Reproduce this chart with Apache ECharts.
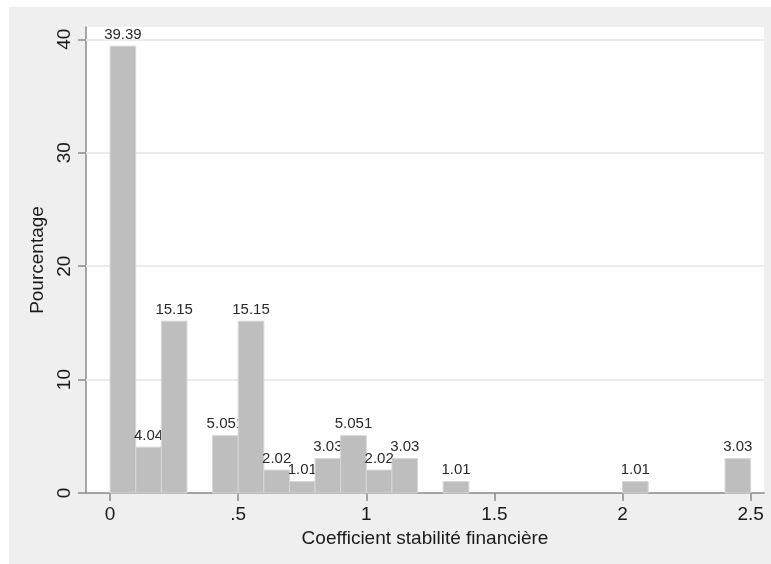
<!DOCTYPE html>
<html>
<head>
<meta charset="utf-8">
<script src="https://cdn.jsdelivr.net/npm/echarts@6/dist/echarts.min.js"></script>
<style>
html,body{margin:0;padding:0;background:#ffffff;}
#chart{position:absolute;left:9px;top:7px;width:762px;height:557px;}
</style>
</head>
<body>
<div id="chart"></div>
<script>
// Histogram bins (left edge) and percentages
const binWidth = 0.1;
const binStarts = [0, 0.1, 0.2, 0.4, 0.5, 0.6, 0.7, 0.8, 0.9, 1.0, 1.1, 1.3, 2.0, 2.4];
const percents  = [39.39, 4.04, 15.15, 5.051, 15.15, 2.02, 1.01, 3.03, 5.051, 2.02, 3.03, 1.01, 1.01, 3.03];
const labels    = ["39.39", "4.04", "15.15", "5.051", "15.15", "2.02", "1.01", "3.03", "5.051", "2.02", "3.03", "1.01", "1.01", "3.03"];
const xTicks = [0, 0.5, 1, 1.5, 2, 2.5];
const yTicks = [0, 10, 20, 30, 40];

const data = binStarts.map((s, i) => [s, +(s + binWidth).toFixed(2), percents[i]]);

const chart = echarts.init(document.getElementById('chart'), null, {renderer: 'canvas'});
const font = '"Liberation Sans", Arial, sans-serif';

chart.setOption({
  backgroundColor: '#efefef',
  animation: false,
  grid: {left: 77, top: 20, right: 7, bottom: 71, show: true, backgroundColor: '#ffffff', borderWidth: 0},
  xAxis: {
    type: 'value', min: -0.094, max: 2.552,
    name: 'Coefficient stabilité financière', nameLocation: 'middle', nameGap: 33,
    nameTextStyle: {fontFamily: font, fontSize: 19, color: '#1a1a1a'},
    axisLine: {show: true, onZero: false, lineStyle: {color: '#8a8a8a', width: 1.5}},
    axisTick: {show: true, length: 8, customValues: xTicks, lineStyle: {color: '#8a8a8a', width: 1.5}},
    axisLabel: {customValues: xTicks, fontFamily: font, fontSize: 19, color: '#1a1a1a', margin: 12,
      formatter: v => String(v).replace(/^0\./, '.')},
    splitLine: {show: false}
  },
  yAxis: {
    type: 'value', min: 0, max: 41.08,
    name: 'Pourcentage', nameLocation: 'middle', nameGap: 35, nameRotate: 90,
    nameTextStyle: {fontFamily: font, fontSize: 19, color: '#1a1a1a'},
    axisLine: {show: true, onZero: false, lineStyle: {color: '#8a8a8a', width: 1.5}},
    axisTick: {show: true, length: 8, customValues: yTicks, lineStyle: {color: '#8a8a8a', width: 1.5}},
    axisLabel: {customValues: yTicks, rotate: 90, fontFamily: font, fontSize: 19, color: '#1a1a1a', margin: 12},
    splitLine: {show: false}
  },
  series: [{
    type: 'line',
    data: [],
    z: 1,
    silent: true,
    markLine: {
      z: 1,
      silent: true, symbol: 'none', label: {show: false},
      lineStyle: {color: '#ebebeb', width: 2, type: 'solid'},
      data: yTicks.filter(v => v > 0).map(v => ({yAxis: v}))
    }
  }, {
    type: 'custom',
    z: 3,
    data: data,
    encode: {x: [0, 1], y: 2},
    renderItem: function (params, api) {
      const p0 = api.coord([api.value(0), api.value(2)]);
      const p1 = api.coord([api.value(1), 0]);
      const x = p0[0], w = p1[0] - p0[0];
      const y = p0[1], h = p1[1] - p0[1];
      return {
        type: 'group',
        children: [
          {type: 'rect', shape: {x: x, y: y, width: w, height: h},
           style: {fill: '#bebebe', stroke: '#d6d6d6', lineWidth: 1}},
          {type: 'text', x: x + w / 2, y: y - 4,
           style: {text: labels[params.dataIndex], fill: '#2a2a2a', font: '15px ' + font,
             textAlign: 'center', textVerticalAlign: 'bottom'}}
        ]
      };
    }
  }]
});
</script>
</body>
</html>
